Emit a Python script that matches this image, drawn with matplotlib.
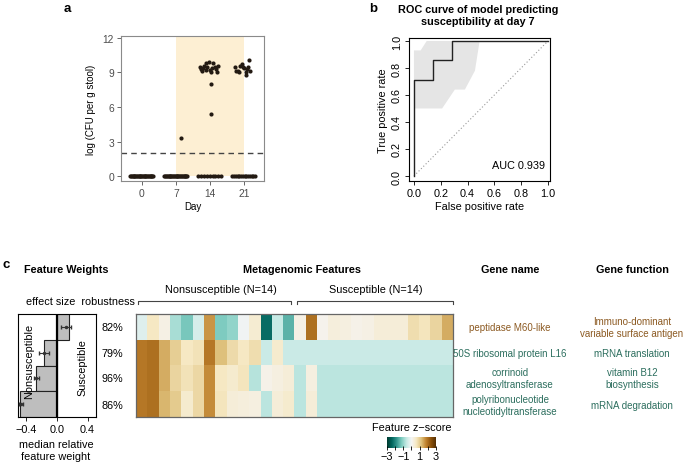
import numpy as np
import matplotlib
matplotlib.use("Agg")
import matplotlib.pyplot as plt
from matplotlib.patches import Polygon

plt.rcParams['font.family'] = ['Liberation Sans', 'DejaVu Sans']

W, H = 685, 464

# ---------------- data ----------------
# panel a
days = [0, 7, 14, 21]
zero_counts = [28, 27, 9, 14]
d7_high_offsets = [1.0]
d7_high_values = [3.3]
d14_high_offsets = [-2.0, -1.8, -1.5, -1.2, -0.9, -0.6, -0.3, 0.1, 0.4, 0.7, 1.0, 1.3, 1.6, -1.6, -0.8, 0.3, 1.5, 0.2, 0.2]
d14_high_values = [9.5, 9.3, 9.4, 9.6, 9.8, 9.5, 9.9, 9.2, 9.4, 9.8, 9.5, 9.3, 9.6, 9.1, 9.2, 9.0, 9.0, 8.0, 5.4]
d21_high_offsets = [-1.8, -1.6, -1.2, -0.8, -0.5, -0.3, 0.0, 0.3, 0.5, 0.7, 0.8, 1.0, 1.2, -1.0]
d21_high_values = [9.5, 9.1, 9.1, 9.6, 9.7, 9.5, 9.4, 9.0, 8.8, 9.3, 9.5, 10.1, 9.1, 9.0]
detection_limit = 2.0

# panel b
roc_fpr = [0, 0, 2/14, 2/14, 4/14, 4/14, 1]
roc_tpr = [0, 10/14, 10/14, 12/14, 12/14, 1, 1]
ci_x = [0.0, 0.0, 0.05, 0.095, 0.49, 0.455, 0.38, 0.305, 0.21]
ci_y = [0.5, 0.93, 0.93, 1.0, 1.0, 0.78, 0.64, 0.64, 0.5]
auc = 0.939

# panel c
features = ["peptidase M60-like", "50S ribosomal protein L16",
            "corrinoid\nadenosyltransferase", "polyribonucleotide\nnucleotidyltransferase"]
functions = ["Immuno-dominant\nvariable surface antigen", "mRNA translation",
             "vitamin B12\nbiosynthesis", "mRNA degradation"]
weights = [0.16, -0.17, -0.28, -0.48]
weight_center = [0.12, -0.17, -0.27, -0.47]
weight_lo = [0.05, -0.23, -0.30, -0.50]
weight_hi = [0.18, -0.10, -0.24, -0.44]
robustness = ["82%", "79%", "96%", "86%"]
n_nonsus = 14
n_sus = 14
z_pept = [-0.3, 0.6, 0.2, -0.85, -1.25, -0.4, 1.6, -1.2, -1.05, -0.05, 0.4, -2.3, -0.6, -1.5,
          0.2, 2.0, 0.1, 0.3, 0.25, 0.15, 0.2, 0.35, 0.35, 0.35, 0.75, 0.65, 0.9, 1.4]
z_50s = [1.9, 2.0, 1.4, 1.0, 0.6, 0.7, 1.9, 1.2, 0.8, 0.6, 0.75, -0.55, 0.45, -0.55,
         -0.55, -0.55, -0.55, -0.55, -0.55, -0.55, -0.55, -0.55, -0.55, -0.55, -0.55, -0.55, -0.55, -0.55]
z_corr = [1.9, 2.0, 1.4, 0.9, 0.7, 0.85, 1.7, 0.6, 0.45, 0.65, -0.75, 0.15, 0.25, 0.35,
          -0.7, 0.25, -0.7, -0.7, -0.7, -0.7, -0.7, -0.7, -0.7, -0.7, -0.7, -0.7, -0.7, -0.7]
z_poly = [1.9, 2.0, 1.3, 1.05, 0.45, 0.85, 1.7, 0.65, 0.35, 0.3, 0.25, -0.7, 0.35, 0.45,
          -0.7, 0.35, -0.7, -0.7, -0.7, -0.7, -0.7, -0.7, -0.7, -0.7, -0.7, -0.7, -0.7, -0.7]

brown_txt = '#8C5A22'
teal_txt = '#2C6E5E'
gene_colors = [brown_txt, teal_txt, teal_txt, teal_txt]

# ---------------- figure ----------------
fig = plt.figure(figsize=(W / 100, H / 100), dpi=100)


def rect(x0, y0, x1, y1):
    return [x0 / W, 1 - y1 / H, (x1 - x0) / W, (y1 - y0) / H]


FS = 7.8
FSA = 7.0
FSAT = 7.4
FSG = 7.0

# ---- panel a ----
axa = fig.add_axes(rect(121, 37, 264, 182))
axa.set_xlim(-4.3, 25.1)
axa.set_ylim(-0.43, 12.17)
axa.fill_between([7, 21], [0, 0], [12.17, 12.17], color='#FDEFD3', lw=0, zorder=0)
axa.axhline(detection_limit, color='#444444', lw=1.0, ls=(0, (4, 3)), zorder=1)
pt_color = '#231a12'
for d, n in zip(days, zero_counts):
    offs = np.linspace(-2.4, 2.3, n)
    axa.scatter(d + offs, np.zeros(n), s=9, color=pt_color, lw=0, zorder=3)
for d, offs, vals in [(7, d7_high_offsets, d7_high_values),
                      (14, d14_high_offsets, d14_high_values),
                      (21, d21_high_offsets, d21_high_values)]:
    axa.scatter(d + np.array(offs), vals, s=9, color=pt_color, lw=0, zorder=3)
axa.set_xticks(days)
axa.set_yticks([0, 3, 6, 9, 12])
axa.tick_params(colors='#4D4D4D', labelsize=FSAT, length=3, width=0.6, pad=2)
for s in axa.spines.values():
    s.set_color('#8A8A8A')
    s.set_linewidth(0.8)
axa.set_xlabel('Day', fontsize=FSA, labelpad=2)
axa.set_ylabel('log (CFU per g stool)', fontsize=FSA, labelpad=5)

# ---- panel b ----
axb = fig.add_axes(rect(409, 39, 550, 182))
axb.set_xlim(-0.037, 1.015)
axb.set_ylim(-0.037, 1.022)
axb.add_patch(Polygon(np.column_stack([ci_x, ci_y]), closed=True, color='#E5E5E5', lw=0, zorder=0))
axb.plot([0, 1], [0, 1], color='#999999', lw=0.8, ls=(0, (1, 2)), zorder=1)
axb.plot(roc_fpr, roc_tpr, color='#222222', lw=1.0, zorder=2)
axb.text(0.98, 0.08, f'AUC {auc:.3f}', ha='right', va='center', fontsize=FS)
ticks = [0, 0.2, 0.4, 0.6, 0.8, 1.0]
axb.set_xticks(ticks)
axb.set_yticks(ticks)
axb.set_xticklabels([f'{t:.1f}' for t in ticks])
axb.set_yticklabels([f'{t:.1f}' for t in ticks], rotation=90, va='center')
axb.tick_params(labelsize=FS, length=3, width=0.6, pad=2)
for s in axb.spines.values():
    s.set_linewidth(0.8)
axb.set_xlabel('False positive rate', fontsize=FS, labelpad=2)
axb.set_ylabel('True positive rate', fontsize=FS, labelpad=3)

# ---- panel c: feature weights ----
axc = fig.add_axes(rect(18, 315, 96, 418))
ypos = np.arange(len(weights))[::-1] + 1
axc.barh(ypos, weights, height=1.0, color='#BEBEBE', edgecolor='#222222', lw=0.8, zorder=1)
axc.errorbar(weight_center, ypos,
             xerr=[np.array(weight_center) - np.array(weight_lo), np.array(weight_hi) - np.array(weight_center)],
             fmt='o', ms=1.5, color='#333333', ecolor='#333333', elinewidth=0.8, capsize=1.2, zorder=3)
axc.axvline(0, color='black', lw=1.6, zorder=2)
axc.set_xlim(-0.51, 0.51)
axc.set_ylim(0.5, 4.5)
axc.set_yticks([])
axc.set_xticks([-0.4, 0.0, 0.4])
axc.set_xticklabels(['\u22120.4', '0.0', '0.4'])
axc.tick_params(labelsize=FS, length=3, width=0.6, pad=2)
for s in axc.spines.values():
    s.set_linewidth(0.8)
axc.text(-0.37, 2.7, 'Nonsusceptible', rotation=90, ha='center', va='center', fontsize=FS)
axc.text(0.33, 2.45, 'Susceptible', rotation=90, ha='center', va='center', fontsize=FS)

# ---- panel c: heatmap ----
axh = fig.add_axes(rect(136, 315, 453, 418))
Z = np.array([z_pept, z_50s, z_corr, z_poly])
axh.imshow(Z, cmap='BrBG_r', vmin=-3, vmax=3, aspect='auto', interpolation='nearest')
axh.set_xticks([])
axh.set_yticks([])
for s in axh.spines.values():
    s.set_color('#666666')
    s.set_linewidth(0.9)
trans = axh.get_xaxis_transform()
for x0, x1 in [(-0.35, n_nonsus - 0.85), (n_nonsus - 0.5 + 0.25, n_nonsus + n_sus - 0.5)]:
    axh.plot([x0, x0, x1, x1], [1.097, 1.126, 1.126, 1.097], transform=trans, color='#444444',
             lw=0.8, clip_on=False)

# colorbar
axcb = fig.add_axes(rect(387, 438, 436, 449))
grad = np.linspace(-3, 3, 256)[None, :]
axcb.imshow(grad, cmap='BrBG_r', vmin=-3, vmax=3, aspect='auto', extent=[-3, 3, 0, 1])
axcb.set_yticks([])
axcb.set_xticks([-3, -2, -1, 0, 1, 2, 3])
axcb.set_xticklabels(['\u22123', '', '\u22121', '', '1', '', '3'])
axcb.tick_params(labelsize=FS, length=3, width=0.6, pad=1, direction='inout')
for s in axcb.spines.values():
    s.set_visible(False)

# ---- overlay text ----
ov = fig.add_axes([0, 0, 1, 1])
ov.set_xlim(0, W)
ov.set_ylim(H, 0)
ov.axis('off')
ov.patch.set_alpha(0)

ov.text(67, 9, 'a', fontsize=9.5, fontweight='bold', ha='center', va='center')
ov.text(373, 9, 'b', fontsize=9.5, fontweight='bold', ha='center', va='center')
ov.text(6, 265, 'c', fontsize=9.5, fontweight='bold', ha='center', va='center')
ov.text(478, 16, 'ROC curve of model predicting\nsusceptibility at day 7', fontsize=FS,
        fontweight='bold', ha='center', va='center', linespacing=1.15)

ov.text(66, 270, 'Feature Weights', fontsize=FS, fontweight='bold', ha='center', va='center')
ov.text(80, 302, 'effect size  robustness', fontsize=FS, ha='center', va='center')
ov.text(56, 445, 'median relative', fontsize=FS, ha='center', va='center')
ov.text(56, 457, 'feature weight', fontsize=FS, ha='center', va='center')
ov.text(302, 270, 'Metagenomic Features', fontsize=FS, fontweight='bold', ha='center', va='center')
ov.text(221, 290, f'Nonsusceptible (N={n_nonsus})', fontsize=FS, ha='center', va='center')
ov.text(376, 290, f'Susceptible (N={n_sus})', fontsize=FS, ha='center', va='center')
ov.text(510, 270, 'Gene name', fontsize=FS, fontweight='bold', ha='center', va='center')
ov.text(632, 270, 'Gene function', fontsize=FS, fontweight='bold', ha='center', va='center')
ov.text(412, 428, 'Feature z\u2212score', fontsize=FS, ha='center', va='center')

row_y = [328, 354, 379, 406]
for i in range(4):
    ov.text(112, row_y[i], robustness[i], fontsize=FS, ha='center', va='center')
    ov.text(510, row_y[i], features[i], fontsize=FSG, ha='center', va='center',
            color=gene_colors[i], linespacing=1.15)
    ov.text(632, row_y[i], functions[i], fontsize=FSG, ha='center', va='center',
            color=gene_colors[i], linespacing=1.15)

fig.savefig('out.png', dpi=100)
